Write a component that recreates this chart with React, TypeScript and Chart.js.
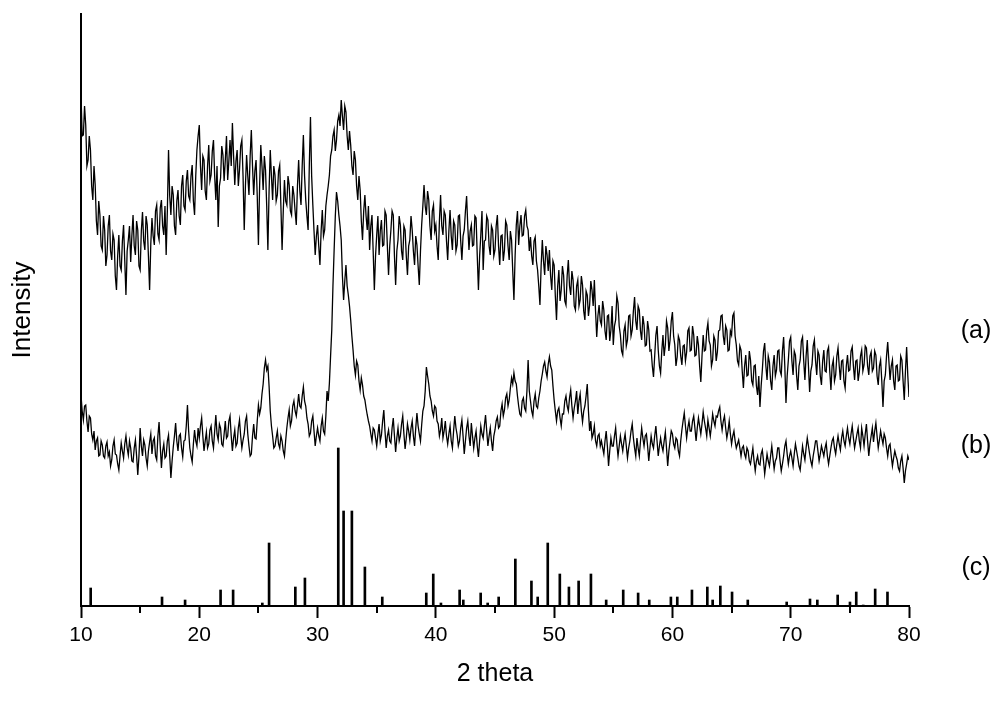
import React, { useEffect, useRef } from "react";
import { Chart, registerables } from "chart.js";

Chart.register(...registerables);

const FONT = 'Arial, "Liberation Sans", sans-serif';

// x grid of the two measured traces: 10 to 80 deg, 0.1 deg apart
const X_START = 10;
const X_STEP = 0.1;
const X_MIN = 10;
const X_MAX = 80;
const X_MAJOR_STEP = 10;
const MINOR_TICKS = [15, 25, 35, 45, 55, 65, 75];
const Y_MAX = 592;

// trace (a): one row per degree (values at .0 .1 ... .9)
const SERIES_A_ROWS: number[][] = [
  [511, 470, 471, 500, 481, 440, 446, 470, 456, 420], // 10
  [406, 440, 421, 385, 371, 405, 391, 360, 356, 390], // 11
  [376, 340, 351, 380, 391, 355, 346, 372, 366, 330], // 12
  [316, 350, 371, 340, 336, 365, 381, 345, 311, 355], // 13
  [366, 380, 344, 370, 391, 360, 351, 385, 376, 340], // 14
  [336, 375, 394, 365, 356, 390, 381, 350, 316, 362], // 15
  [388, 370, 361, 395, 401, 372, 366, 398, 406, 380], // 16
  [371, 400, 351, 395, 456, 410, 391, 420, 411, 380], // 17
  [371, 405, 416, 390, 381, 420, 431, 400, 396, 425], // 18
  [436, 410, 406, 430, 441, 405, 391, 430, 456, 470], // 19
  [481, 440, 416, 450, 446, 415, 406, 440, 461, 425], // 20
  [431, 455, 466, 430, 406, 440, 379, 420, 428, 460], // 21
  [451, 425, 446, 470, 426, 445, 466, 440, 483, 450], // 22
  [421, 445, 456, 420, 436, 460, 466, 430, 376, 420], // 23
  [451, 430, 411, 450, 476, 440, 411, 435, 446, 410], // 24
  [361, 420, 461, 440, 416, 450, 436, 400, 356, 415], // 25
  [456, 430, 406, 440, 431, 405, 411, 435, 441, 400], // 26
  [356, 395, 426, 405, 401, 430, 421, 395, 391, 420], // 27
  [411, 395, 381, 420, 446, 415, 401, 440, 471, 430], // 28
  [406, 390, 376, 440, 489, 430, 401, 375, 351, 370], // 29
  [381, 360, 341, 375, 396, 370, 376, 400, 411, 420], // 30
  [431, 450, 456, 470, 476, 455, 466, 485, 491, 480], // 31
  [506, 490, 476, 500, 494, 470, 456, 475, 461, 440], // 32
  [431, 455, 446, 420, 406, 430, 416, 385, 366, 395], // 33
  [411, 390, 376, 400, 356, 380, 391, 355, 316, 350], // 34
  [371, 390, 351, 375, 386, 360, 361, 395, 391, 360], // 35
  [331, 360, 376, 395, 391, 350, 321, 355, 366, 390], // 36
  [381, 355, 346, 380, 376, 350, 331, 360, 366, 390], // 37
  [376, 355, 341, 370, 361, 340, 321, 355, 381, 400], // 38
  [421, 400, 391, 415, 406, 380, 366, 395, 401, 375], // 39
  [381, 360, 346, 385, 411, 380, 371, 395, 391, 365], // 40
  [346, 375, 396, 370, 356, 385, 381, 355, 361, 390], // 41
  [391, 365, 346, 370, 376, 395, 410, 380, 356, 375], // 42
  [381, 360, 361, 390, 388, 350, 316, 350, 371, 395], // 43
  [336, 365, 366, 390, 386, 360, 351, 380, 376, 350], // 44
  [356, 380, 391, 360, 341, 370, 371, 345, 356, 385], // 45
  [381, 360, 346, 375, 366, 335, 306, 350, 381, 395], // 46
  [361, 380, 391, 370, 371, 390, 396, 380, 376, 355], // 47
  [369, 350, 341, 365, 369, 345, 336, 320, 301, 340], // 48
  [366, 345, 331, 360, 351, 335, 356, 330, 316, 345], // 49
  [341, 310, 286, 320, 336, 305, 316, 340, 331, 305], // 50
  [301, 330, 346, 320, 311, 335, 326, 300, 296, 320], // 51
  [326, 300, 306, 330, 321, 295, 286, 315, 311, 290], // 52
  [301, 325, 316, 300, 326, 295, 269, 290, 301, 285], // 53
  [281, 305, 296, 275, 266, 290, 291, 265, 276, 300], // 54
  [261, 280, 286, 310, 303, 280, 271, 255, 251, 275], // 55
  [281, 260, 266, 290, 291, 270, 276, 295, 309, 285], // 56
  [276, 300, 296, 275, 266, 290, 281, 260, 261, 285], // 57
  [276, 255, 256, 240, 229, 250, 271, 280, 256, 240], // 58
  [233, 255, 271, 250, 261, 285, 278, 255, 266, 285], // 59
  [294, 270, 261, 240, 249, 270, 266, 250, 241, 260], // 60
  [261, 245, 254, 275, 278, 255, 256, 280, 271, 250], // 61
  [251, 270, 261, 240, 224, 250, 271, 255, 256, 275], // 62
  [283, 265, 261, 240, 246, 270, 266, 245, 254, 275], // 63
  [276, 290, 291, 270, 261, 280, 276, 255, 256, 275], // 64
  [271, 290, 293, 270, 261, 245, 241, 260, 256, 235], // 65
  [218, 240, 251, 230, 231, 255, 246, 225, 221, 240], // 66
  [241, 220, 211, 230, 199, 220, 236, 255, 263, 240], // 67
  [226, 250, 244, 225, 216, 240, 251, 230, 236, 255], // 68
  [256, 235, 231, 255, 269, 240, 203, 230, 246, 265], // 69
  [269, 245, 231, 255, 251, 230, 216, 240, 246, 265], // 70
  [269, 245, 226, 250, 266, 240, 214, 235, 241, 260], // 71
  [266, 245, 231, 255, 251, 230, 221, 245, 256, 235], // 72
  [234, 255, 259, 235, 216, 240, 246, 225, 231, 250], // 73
  [258, 240, 226, 245, 246, 225, 218, 240, 251, 235], // 74
  [236, 255, 259, 240, 226, 245, 246, 225, 234, 250], // 75
  [256, 235, 241, 260, 258, 240, 231, 250, 254, 235], // 76
  [238, 255, 251, 230, 221, 240, 246, 225, 199, 225], // 77
  [231, 250, 264, 245, 226, 240, 246, 225, 216, 240], // 78
  [241, 225, 226, 250, 246, 225, 206, 235, 259, 230], // 79
];
const SERIES_A_LAST = 209; // 80

// trace (b)
const SERIES_B_ROWS: number[][] = [
  [211, 195, 186, 200, 201, 185, 174, 190, 188, 172], // 10
  [166, 175, 156, 165, 168, 150, 151, 165, 161, 150], // 11
  [148, 160, 164, 150, 154, 140, 146, 160, 166, 152], // 12
  [151, 142, 136, 150, 163, 155, 148, 162, 170, 158], // 13
  [151, 165, 158, 145, 144, 158, 166, 150, 131, 150], // 14
  [178, 160, 150, 166, 161, 148, 140, 155, 164, 172], // 15
  [152, 165, 168, 150, 146, 170, 184, 160, 138, 155], // 16
  [162, 148, 150, 165, 171, 150, 128, 145, 159, 170], // 17
  [183, 165, 155, 170, 172, 158, 149, 165, 166, 180], // 18
  [201, 175, 158, 150, 144, 162, 176, 165, 160, 178], // 19
  [168, 180, 188, 170, 155, 165, 174, 158, 162, 176], // 20
  [180, 165, 158, 175, 191, 172, 166, 182, 178, 162], // 21
  [160, 172, 185, 168, 170, 185, 190, 170, 155, 168], // 22
  [176, 160, 163, 178, 186, 170, 158, 166, 172, 185], // 23
  [190, 172, 160, 150, 152, 170, 182, 168, 167, 185], // 24
  [201, 192, 198, 212, 222, 238, 246, 236, 240, 220], // 25
  [195, 180, 170, 158, 160, 168, 175, 162, 158, 170], // 26
  [165, 155, 150, 165, 178, 188, 196, 180, 185, 200], // 27
  [205, 195, 190, 200, 212, 200, 198, 210, 219, 205], // 28
  [200, 188, 182, 170, 173, 185, 190, 175, 160, 170], // 29
  [178, 170, 165, 180, 188, 175, 172, 190, 215, 205], // 30
  [223, 250, 276, 320, 356, 390, 414, 405, 391, 380], // 31
  [366, 330, 306, 325, 341, 320, 311, 300, 286, 270], // 32
  [256, 240, 231, 245, 241, 225, 216, 228, 221, 210], // 33
  [206, 198, 191, 185, 180, 172, 165, 178, 176, 168], // 34
  [160, 172, 182, 165, 171, 185, 196, 175, 158, 170], // 35
  [176, 165, 163, 178, 188, 170, 154, 168, 178, 165], // 36
  [170, 182, 190, 172, 157, 168, 182, 175, 166, 178], // 37
  [185, 170, 160, 178, 193, 180, 172, 165, 181, 195], // 38
  [200, 215, 239, 230, 222, 210, 205, 195, 190, 200], // 39
  [198, 185, 182, 170, 176, 188, 168, 175, 185, 170], // 40
  [162, 172, 180, 165, 158, 175, 190, 178, 171, 160], // 41
  [165, 178, 186, 170, 152, 165, 178, 185, 170, 160], // 42
  [183, 170, 158, 168, 175, 160, 149, 165, 180, 172], // 43
  [168, 180, 191, 175, 160, 170, 178, 165, 155, 170], // 44
  [176, 185, 189, 178, 180, 195, 202, 190, 196, 208], // 45
  [212, 200, 206, 218, 228, 222, 233, 225, 222, 210], // 46
  [200, 192, 190, 205, 208, 198, 195, 215, 246, 215], // 47
  [205, 195, 190, 205, 212, 200, 198, 208, 215, 225], // 48
  [232, 240, 244, 235, 229, 242, 249, 240, 236, 220], // 49
  [206, 195, 185, 195, 198, 188, 180, 192, 192, 205], // 50
  [210, 200, 195, 208, 216, 200, 188, 198, 205, 215], // 51
  [192, 205, 212, 195, 184, 195, 200, 210, 222, 195], // 52
  [175, 185, 168, 172, 180, 165, 160, 170, 172, 160], // 53
  [165, 158, 152, 165, 175, 160, 140, 155, 168, 160], // 54
  [160, 170, 178, 162, 150, 160, 170, 162, 155, 165], // 55
  [172, 160, 148, 158, 165, 175, 182, 168, 158, 150], // 56
  [168, 158, 150, 165, 178, 168, 160, 170, 172, 160], // 57
  [145, 158, 170, 162, 158, 170, 180, 165, 150, 160], // 58
  [168, 160, 155, 165, 174, 158, 140, 155, 165, 175], // 59
  [172, 162, 158, 168, 166, 155, 150, 165, 176, 185], // 60
  [193, 180, 168, 178, 185, 175, 175, 185, 190, 178], // 61
  [165, 178, 188, 180, 172, 182, 194, 185, 178, 170], // 62
  [186, 178, 170, 180, 192, 185, 180, 190, 189, 195], // 63
  [199, 185, 176, 185, 190, 178, 168, 175, 185, 172], // 64
  [162, 170, 175, 165, 158, 162, 166, 158, 150, 158], // 65
  [160, 152, 148, 158, 155, 145, 142, 150, 158, 145], // 66
  [135, 145, 150, 142, 141, 152, 156, 145, 132, 142], // 67
  [152, 145, 140, 150, 160, 148, 137, 145, 148, 158], // 68
  [158, 145, 135, 142, 150, 160, 165, 152, 142, 150], // 69
  [155, 148, 140, 152, 162, 155, 148, 140, 136, 148], // 70
  [160, 152, 146, 158, 168, 160, 152, 145, 140, 150], // 71
  [157, 165, 165, 155, 145, 152, 160, 155, 150, 158], // 72
  [163, 150, 142, 150, 158, 165, 168, 158, 152, 162], // 73
  [170, 162, 156, 168, 175, 165, 160, 170, 178, 168], // 74
  [162, 172, 180, 168, 158, 165, 172, 178, 165, 158], // 75
  [178, 170, 160, 172, 182, 165, 150, 162, 170, 178], // 76
  [164, 175, 183, 170, 158, 166, 175, 168, 162, 172], // 77
  [168, 158, 150, 160, 162, 150, 140, 148, 155, 150], // 78
  [146, 138, 135, 145, 150, 138, 123, 135, 142, 150], // 79
];
const SERIES_B_LAST = 146; // 80

// reference pattern (c): peak positions and relative heights
const PEAK_POSITIONS = [
  10.82, 16.85, 18.8, 21.8, 22.86, 25.33, 25.9, 28.12, 28.93, 31.75, 32.2, 32.9,
  34.0, 35.47, 39.19, 39.78, 40.43, 42.01, 42.32, 43.79, 44.38, 45.31, 46.72,
  48.08, 48.61, 49.46, 50.48, 51.25, 52.07, 53.11, 54.4, 55.84, 57.1, 58.04,
  59.87, 60.41, 61.65, 62.95, 63.4, 64.05, 65.04, 66.37, 69.66, 71.63, 72.25,
  73.97, 75.01, 75.54, 76.13, 77.14, 78.18,
];
const PEAK_HEIGHTS = [
  18, 9, 6, 16, 16, 3, 63, 19, 28, 158, 95, 95,
  39, 9, 13, 32, 3, 16, 6, 13, 3, 9, 47,
  25, 9, 63, 32, 19, 25, 32, 6, 16, 13, 6,
  9, 9, 16, 19, 6, 20, 14, 6, 4, 7, 6,
  11, 4, 14, 1, 17, 14,
];

const TRACE_LABELS = ["(a)", "(b)", "(c)"];
const TRACE_LABEL_LEVELS = [275, 160, 38];

const X_TITLE = "2 theta";
const Y_TITLE = "Intensity";

function toPoints(rows: number[][], last: number) {
  const vals = rows.flat().concat([last]);
  return vals.map((v, i) => ({ x: +(X_START + i * X_STEP).toFixed(1), y: v }));
}

const decorPlugin = {
  id: "decor",
  afterDraw(chart: any) {
    const { ctx, chartArea, scales } = chart;
    const xs = scales.x;
    const ys = scales.y;
    ctx.save();
    ctx.strokeStyle = "#000";
    ctx.lineWidth = 2;
    MINOR_TICKS.forEach((v) => {
      const px = Math.round(xs.getPixelForValue(v));
      ctx.beginPath();
      ctx.moveTo(px, chartArea.bottom);
      ctx.lineTo(px, chartArea.bottom + 7);
      ctx.stroke();
    });
    ctx.fillStyle = "#000";
    ctx.font = `25px ${FONT}`;
    ctx.textAlign = "center";
    ctx.textBaseline = "middle";
    TRACE_LABELS.forEach((t, i) => {
      ctx.fillText(t, chartArea.right + 67, ys.getPixelForValue(TRACE_LABEL_LEVELS[i]));
    });
    ctx.restore();
  },
};

export default function App() {
  const ref = useRef<HTMLCanvasElement | null>(null);

  useEffect(() => {
    document.body.style.margin = "0";
    if (!ref.current) return;
    const chart = new Chart(ref.current, {
      type: "line",
      data: {
        datasets: [
          {
            type: "line",
            label: "(a)",
            data: toPoints(SERIES_A_ROWS, SERIES_A_LAST),
            borderColor: "#000",
            borderWidth: 1.3,
            pointRadius: 0,
            tension: 0,
          },
          {
            type: "line",
            label: "(b)",
            data: toPoints(SERIES_B_ROWS, SERIES_B_LAST),
            borderColor: "#000",
            borderWidth: 1.3,
            pointRadius: 0,
            tension: 0,
          },
          {
            type: "bar",
            label: "(c)",
            data: PEAK_POSITIONS.map((x, i) => ({ x, y: PEAK_HEIGHTS[i] })),
            backgroundColor: "#000",
            borderWidth: 0,
            barThickness: 2,
            grouped: false,
          } as any,
        ],
      },
      options: {
        responsive: false,
        animation: false,
        events: [],
        layout: { padding: { top: 14, right: 91, bottom: 0, left: 0 } },
        plugins: {
          legend: { display: false },
          tooltip: { enabled: false },
        },
        scales: {
          x: {
            type: "linear",
            min: X_MIN,
            max: X_MAX,
            offset: false,
            ticks: {
              stepSize: X_MAJOR_STEP,
              autoSkip: false,
              maxRotation: 0,
              color: "#000",
              padding: 5,
              font: { family: FONT, size: 21 },
            },
            grid: {
              display: true,
              offset: false,
              drawOnChartArea: false,
              drawTicks: true,
              tickLength: 12,
              tickWidth: 2,
              tickColor: "#000",
            },
            border: { display: true, color: "#000", width: 2 },
            title: {
              display: true,
              text: X_TITLE,
              color: "#000",
              font: { family: FONT, size: 25 },
              padding: { top: 0, bottom: 12 },
            },
            afterFit: (s: any) => {
              s.height = 95;
            },
          },
          y: {
            type: "linear",
            min: 0,
            max: Y_MAX,
            ticks: { display: false },
            grid: { display: false, drawTicks: false },
            border: { display: true, color: "#000", width: 2 },
            title: {
              display: true,
              text: Y_TITLE,
              color: "#000",
              font: { family: FONT, size: 26 },
              padding: { top: 7, bottom: 0 },
            },
            afterFit: (s: any) => {
              s.width = 81;
            },
          },
        },
      },
      plugins: [decorPlugin],
    } as any);
    return () => chart.destroy();
  }, []);

  return (
    <div style={{ width: 1000, height: 701 }}>
      <canvas ref={ref} width={1000} height={701} style={{ display: "block" }} />
    </div>
  );
}
